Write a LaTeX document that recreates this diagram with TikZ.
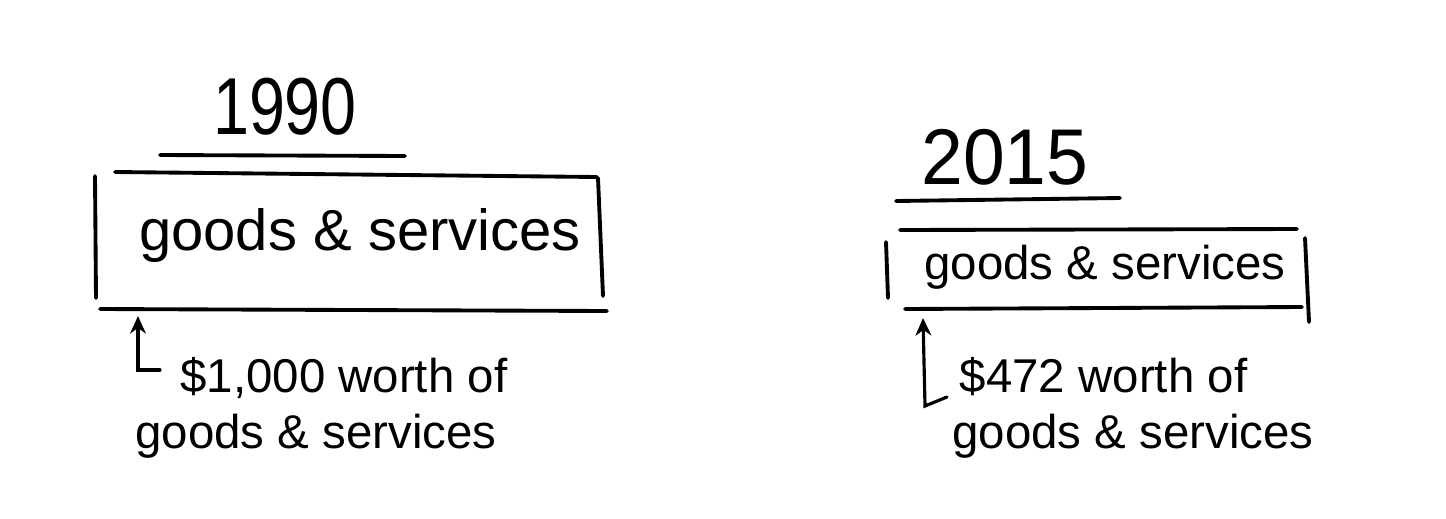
\documentclass[tikz,border=0pt]{standalone}
\usepackage{fontspec}
\setmainfont{Liberation Sans}
\usetikzlibrary{arrows.meta, positioning}

\begin{document}
\begin{tikzpicture}[
    x=0.02cm, y=-0.02cm,
    >={Stealth[length=10pt, width=9pt]},
    pen/.style={line width=2.2pt, line cap=round},
    year/.style={font=\fontsize{46}{50}\selectfont, anchor=base, inner sep=0pt},
    boxtext/.style={anchor=base, inner sep=0pt},
    note/.style={font=\fontsize{27}{32}\selectfont, align=left,
        anchor=north west, inner sep=0pt}
]

    \useasboundingbox (0,0) rectangle (1446,518);

    % Nodes ------------------------------------------------------

    \node[year] (y1990) at (285,134) {\scalebox{0.8}[1]{1990}};
    \node[year, font=\fontsize{45}{48}\selectfont] (y2015) at (1005,184) {\scalebox{0.95}[1]{2015}};

    \node[boxtext, font=\fontsize{33}{36}\selectfont] (gs1990) at (360,250) {goods \& services};
    \node[boxtext, font=\fontsize{27}{30}\selectfont] (gs2015) at (1105,279) {goods \& services};

    % labels
    \node[note] (n1990) at (135,357) {\hspace*{0.9cm}\$1,000 worth of\\goods \& services};
    \node[note] (n2015) at (952,357) {\hspace*{0.15cm}\$472 worth of\\goods \& services};

    % Lines ------------------------------------------------------

    % 1990
    \draw[pen] (160,155) -- (405,156);
    \draw[pen] (115,172) -- (597,177);
    \draw[pen] (95,176) -- (96,298);
    \draw[pen] (598,178) -- (603,296);
    \draw[pen] (100,309) -- (607,311);

    % 2015
    \draw[pen] (896,201) -- (1120,198);
    \draw[pen] (900,230) -- (1297,229);
    \draw[pen] (886,242) -- (888,298);
    \draw[pen] (1305,238) -- (1309,322);
    \draw[pen] (905,309) -- (1302,307);

    % Arrows ---------------------------------------------------

    \coordinate (tip1990) at (138,316);
    \coordinate (foot1990) at (160,370);
    \coordinate (tip2015) at (923,318);
    \coordinate (foot2015) at (947,397);

    \draw[pen, line width=1.8pt, ->] (foot1990) -| (tip1990);
    \draw[pen, line width=1.8pt, ->] (foot2015) -- (925,406) -- (tip2015);

\end{tikzpicture}
\end{document}
